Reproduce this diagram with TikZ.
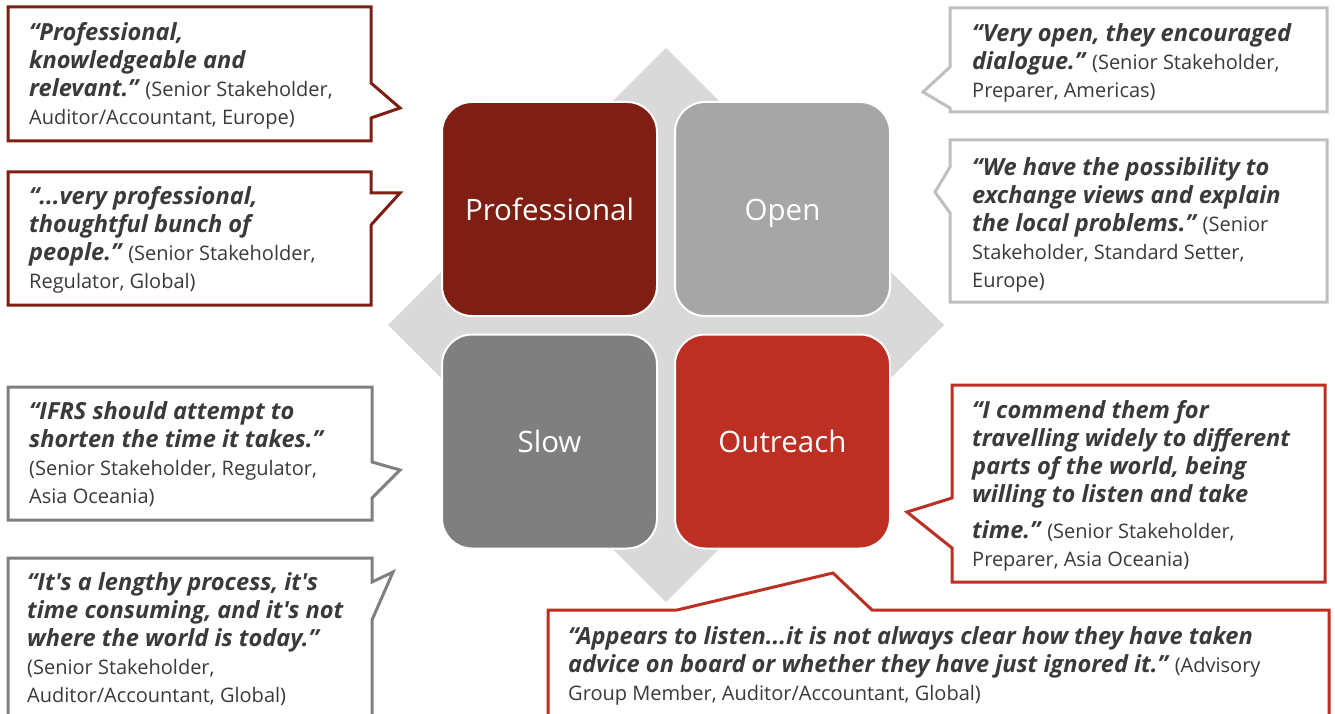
\documentclass[tikz,border=0pt]{standalone}
\usepackage{fontspec}
\newfontfamily\osans{Open Sans}
\definecolor{prof}{HTML}{7F1F14}
\definecolor{openc}{HTML}{A6A6A6}
\definecolor{slowc}{HTML}{7F7F7F}
\definecolor{outr}{HTML}{BC2F22}
\definecolor{diam}{HTML}{D9D9D9}
\definecolor{txt}{HTML}{3A3A3A}
\definecolor{lgray}{HTML}{BFBFBF}
\newcommand\bq[1]{{\fontsize{23.6}{28}\selectfont\bfseries\itshape #1}}
\tikzset{
  sq/.style={draw=white, line width=2pt, rounded corners=30pt, minimum width=215pt, minimum height=214pt, text=white, text height=28pt, text depth=6pt, font=\osans\fontsize{29.5}{34}\selectfont},
  callout/.style={line width=3pt, fill=white, line join=miter},
  qt/.style={anchor=base west, inner sep=0pt, align=left, text=txt, font=\osans\fontsize{20}{28}\selectfont},
}
\begin{document}
\begin{tikzpicture}[x=1pt,y=-1pt]
\useasboundingbox (0,0) rectangle (1335,714);
\clip (0,0) rectangle (1335,714);
% diamond
\fill[diam] (666,48) -- (944,325) -- (666,602) -- (388,325) -- cycle;
% squares
\node[sq, fill=prof] (professional) at (549.5,209) {Professional};
\node[sq, fill=openc] (open) at (782.5,209) {Open};
\node[sq, fill=slowc] (slow) at (549.5,441.5) {Slow};
\node[sq, fill=outr] (outreach) at (782.5,441.5) {Outreach};
% callouts left (text nodes anchored at the baseline of their last line)
\draw[callout, draw=prof] (8,7) -- (371,7) -- (371,83) -- (400,108) -- (371,118) -- (371,141) -- (8,141) -- cycle;
\node[qt] (q1) at (29,125) {\bq{“Professional,}\\\bq{knowledgeable and}\\\bq{relevant.”} (Senior Stakeholder,\\Auditor/Accountant, Europe)};
\draw[callout, draw=prof] (8,172) -- (371,172) -- (371,193) -- (400,193) -- (371,225) -- (371,305) -- (8,305) -- cycle;
\node[qt] (q2) at (29,288) {\bq{“...very professional,}\\\bq{thoughtful bunch of}\\\bq{people.”} (Senior Stakeholder,\\Regulator, Global)};
\draw[callout, draw=slowc] (8,387) -- (372,387) -- (372,462) -- (400,470) -- (372,498) -- (372,520) -- (8,520) -- cycle;
\node[qt] (q3) at (29,503) {\bq{“IFRS should attempt to}\\\bq{shorten the time it takes.”}\\(Senior Stakeholder, Regulator,\\Asia Oceania)};
\draw[callout, draw=slowc] (8,558) -- (372,558) -- (372,582) -- (393,572) -- (372,620) -- (372,730) -- (8,730) -- cycle;
\node[qt] (q4) at (27,702) {\bq{“It's a lengthy process, it's}\\\bq{time consuming, and it's not}\\\bq{where the world is today.”}\\(Senior Stakeholder,\\Auditor/Accountant, Global)};
% callouts right
\draw[callout, draw=lgray] (950,8) -- (1327,8) -- (1327,112) -- (950,112) -- (950,108) -- (923,92) -- (950,67) -- cycle;
\node[qt] (q5) at (972,98) {\bq{“Very open, they encouraged}\\\bq{dialogue.”} (Senior Stakeholder,\\Preparer, Americas)};
\draw[callout, draw=lgray] (950,140) -- (1327,140) -- (1327,302) -- (950,302) -- (950,213) -- (935,192) -- (950,167) -- cycle;
\node[qt] (q6) at (972,287) {\bq{“We have the possibility to}\\\bq{exchange views and explain}\\\bq{the local problems.”} (Senior\\Stakeholder, Standard Setter,\\Europe)};
\draw[callout, draw=outr] (952,385) -- (1325,385) -- (1325,582) -- (952,582) -- (952,548) -- (907,512) -- (952,498) -- cycle;
\node[qt] (q7) at (972,566) {\bq{“I commend them for}\\\bq{travelling widely to different}\\\bq{parts of the world, being}\\\bq{willing to listen and take}\\[8pt]\bq{time.”} (Senior Stakeholder,\\Preparer, Asia Oceania)};
\draw[callout, draw=outr] (548,610) -- (677,610) -- (833,573) -- (872,610) -- (1329,610) -- (1329,730) -- (548,730) -- cycle;
\node[qt] (q8) at (568,700) {\bq{“Appears to listen...it is not always clear how they have taken}\\\bq{advice on board or whether they have just ignored it.”} (Advisory\\Group Member, Auditor/Accountant, Global)};
\end{tikzpicture}
\end{document}
